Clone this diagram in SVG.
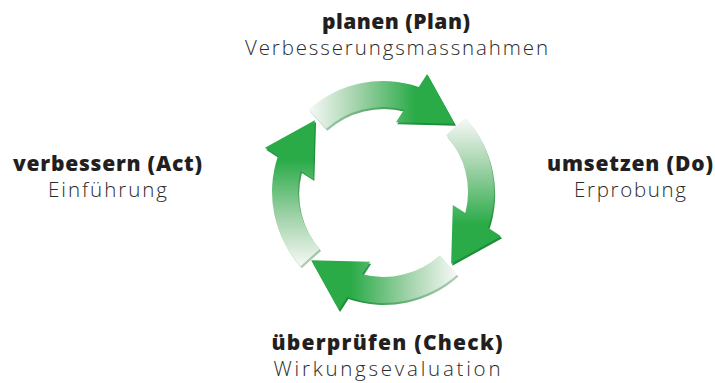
<svg xmlns="http://www.w3.org/2000/svg" xmlns:xlink="http://www.w3.org/1999/xlink" width="715" height="383" viewBox="0 0 715 383">
<defs>
<style>
.b{font-family:"Open Sans","Liberation Sans",sans-serif;font-weight:800;font-size:21px;fill:#231f20;text-anchor:middle}
.r{font-family:"Open Sans","Liberation Sans",sans-serif;font-weight:300;font-size:20.5px;fill:#2b2b2b;text-anchor:middle}
</style>
<linearGradient id="g" gradientUnits="userSpaceOnUse" x1="309" y1="0" x2="415" y2="0">
<stop offset="0" stop-color="#f7f9f7"/>
<stop offset="0.45" stop-color="#a3d3ab"/>
<stop offset="1" stop-color="#2aab48"/>
</linearGradient>
<linearGradient id="gs" gradientUnits="userSpaceOnUse" x1="309" y1="0" x2="415" y2="0">
<stop offset="0" stop-color="#b5cdb9"/>
<stop offset="0.45" stop-color="#6fb57d"/>
<stop offset="1" stop-color="#1e8e3a"/>
</linearGradient>
<path id="arrow" d="M308.73 109.51 A111 111 0 0 1 418.76 86.92 L427.13 73.98 L454.81 123.85 L395.94 122.19 L404.05 109.65 A85 85 0 0 0 326.12 128.83 Z"/>
</defs>
<rect width="715" height="383" fill="#ffffff"/>
<g id="connectors">
<g id="shadows" fill="url(#gs)">
<use xlink:href="#arrow" transform="translate(1.2 2)"/>
<use xlink:href="#arrow" transform="translate(1.2 2) rotate(90 383 192)"/>
<use xlink:href="#arrow" transform="translate(1.2 2) rotate(180 383 192)"/>
<use xlink:href="#arrow" transform="translate(1.2 2) rotate(270 383 192)"/>
</g>
<g id="arrows" fill="url(#g)">
<use id="arrow-plan-do" xlink:href="#arrow"/>
<use id="arrow-do-check" xlink:href="#arrow" transform="rotate(90 383 192)"/>
<use id="arrow-check-act" xlink:href="#arrow" transform="rotate(180 383 192)"/>
<use id="arrow-act-plan" xlink:href="#arrow" transform="rotate(270 383 192)"/>
</g>
</g>
<g id="plan">
<text class="b" x="396" y="29" textLength="148" lengthAdjust="spacing">planen (Plan)</text>
<text class="r" x="396.5" y="55" textLength="303" lengthAdjust="spacing">Verbesserungsmassnahmen</text>
</g>
<g id="do">
<text class="b" x="630" y="171" textLength="166" lengthAdjust="spacing">umsetzen (Do)</text>
<text class="r" x="630" y="197" textLength="112" lengthAdjust="spacing">Erprobung</text>
</g>
<g id="check">
<text class="b" x="387" y="350" textLength="231" lengthAdjust="spacing">überprüfen (Check)</text>
<text class="r" x="387" y="376" textLength="227" lengthAdjust="spacing">Wirkungsevaluation</text>
</g>
<g id="act">
<text class="b" x="107.5" y="171" textLength="189" lengthAdjust="spacing">verbessern (Act)</text>
<text class="r" x="107.5" y="197" textLength="119" lengthAdjust="spacing">Einführung</text>
</g>
</svg>
